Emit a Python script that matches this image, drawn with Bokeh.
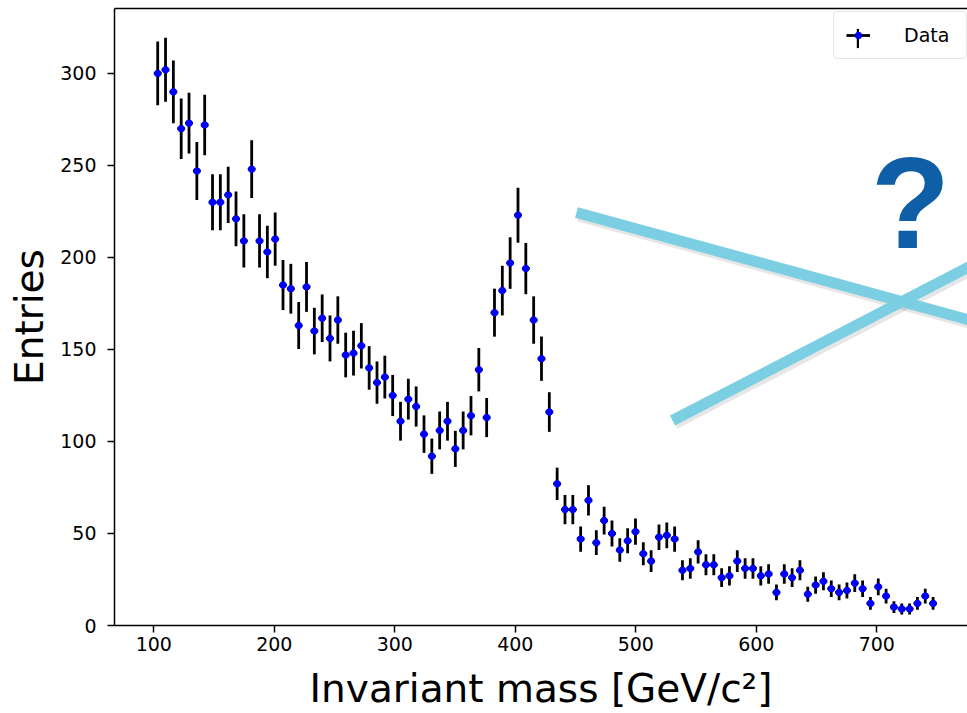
import numpy as np
from bokeh.plotting import figure
from bokeh.models import (Range1d, FixedTicker, LinearAxis, Legend, LegendItem,
                          Label, ColumnDataSource)
from bokeh.embed import file_html
from bokeh.resources import INLINE

# ---------------- data ----------------
bin_low = 100.0
bin_high = 750.0
n_bins = 100

counts = [300, 302, 290, 270, 273, 247, 272, 230, 230, 234,
          221, 209, 248, 209, 203, 210, 185, 183, 163, 184,
          160, 167, 156, 166, 147, 148, 152, 140, 132, 135,
          125, 111, 123, 119, 104, 92, 106, 111, 96, 106,
          114, 139, 113, 170, 182, 197, 223, 194, 166, 145,
          116, 77, 63, 63, 47, 68, 45, 57, 50, 41,
          46, 51, 39, 35, 48, 49, 47, 30, 31, 40,
          33, 33, 26, 27, 35, 31, 31, 27, 28, 18,
          28, 26, 30, 17, 22, 24, 20, 18, 19, 23,
          20, 12, 21, 16, 10, 9, 9, 12, 16, 12]

x_ticks = [100, 200, 300, 400, 500, 600, 700]
y_ticks = [0, 50, 100, 150, 200, 250, 300]
legend_label = "Data"
x_label = "Invariant mass [GeV/c²]"
y_label = "Entries"
overlay_text = "?"

# ---------------- layout ----------------
W, H = 967, 713
FRAME_L, FRAME_R, FRAME_T, FRAME_B = 114, 967, 8, 625
X_MIN, X_MAX = 67.4, 775.3
Y_MIN, Y_MAX = 0.0, 335.3

edges = np.linspace(bin_low, bin_high, n_bins + 1)
centers = 0.5 * (edges[:-1] + edges[1:])
half_w = 0.5 * (edges[1:] - edges[:-1])
yv = np.array(counts, dtype=float)
err = np.sqrt(yv)  # Poisson errors on counts

src = ColumnDataSource(dict(x=centers, y=yv, ylo=yv - err, yhi=yv + err,
                            xlo=centers - half_w, xhi=centers + half_w))

p = figure(width=W, height=H, x_range=Range1d(X_MIN, X_MAX), y_range=Range1d(Y_MIN, Y_MAX),
           output_backend="svg", toolbar_location=None,
           min_border_left=FRAME_L, min_border_right=W - FRAME_R,
           min_border_top=FRAME_T, min_border_bottom=H - FRAME_B)
p.xgrid.visible = False
p.ygrid.visible = False
p.outline_line_color = None
p.background_fill_color = "white"
p.border_fill_color = "white"

FONT = "DejaVu Sans"

xax = p.xaxis[0]
xax.ticker = FixedTicker(ticks=x_ticks)
yax = p.yaxis[0]
yax.ticker = FixedTicker(ticks=y_ticks)
for ax, standoff in ((xax, 4), (yax, 11)):
    ax.axis_line_width = 1.5
    ax.axis_line_color = "black"
    ax.major_tick_line_width = 1.5
    ax.major_tick_line_color = "black"
    ax.major_tick_in = 0
    ax.major_tick_out = 7
    ax.minor_tick_line_color = None
    ax.major_label_text_font = FONT
    ax.major_label_text_font_size = "19px"
    ax.major_label_text_color = "black"
    ax.major_label_standoff = standoff
    ax.axis_label_text_font = FONT
    ax.axis_label_text_font_size = "39px"
    ax.axis_label_text_font_style = "normal"
    ax.axis_label_text_color = "black"
xax.axis_label = x_label
yax.axis_label = y_label
xax.axis_label_standoff = 12
yax.axis_label_standoff = 5

top = LinearAxis(ticker=FixedTicker(ticks=[]), axis_line_width=1.5, axis_line_color="black",
                 major_tick_in=0, major_tick_out=0, minor_tick_in=0, minor_tick_out=0,
                 major_tick_line_color=None, minor_tick_line_color=None,
                 major_label_standoff=0, major_label_text_font_size="0px")
p.add_layout(top, "above")

# ---------------- data glyphs ----------------
r_yerr = p.segment(x0="x", y0="ylo", x1="x", y1="yhi", source=src,
                   line_color="black", line_width=2.8)
r_xerr = p.segment(x0="xlo", y0="y", x1="xhi", y1="y", source=src,
                   line_color="black", line_width=2.8)
r_dot = p.scatter(x="x", y="y", source=src, marker="circle", size=6.5,
                  fill_color="#0000ff", line_color="#0000ff")
# zero-area bars: invisible in the plot, used only as the vertical stroke of the legend handle
r_vleg = p.vbar(x="x", top="y", bottom="y", width=0.0, source=src,
                fill_color="black", line_color=None)

# ---------------- overlay decoration (pixel positions -> data coords) ----------------
def px_x(px):
    return X_MIN + (px - FRAME_L) * (X_MAX - X_MIN) / (FRAME_R - FRAME_L)

def px_y(py):
    return Y_MAX - (py - FRAME_T) * (Y_MAX - Y_MIN) / (FRAME_B - FRAME_T)

strokes = [((576, 212), (1000, 328)), ((672, 420), (1000, 250))]
for (ax0, ay0), (ax1, ay1) in strokes:
    p.line([px_x(ax0 + 2), px_x(ax1 + 2)], [px_y(ay0 + 3), px_y(ay1 + 3)],
           line_color="#555555", line_alpha=0.15, line_width=12)
for (ax0, ay0), (ax1, ay1) in strokes:
    p.line([px_x(ax0), px_x(ax1)], [px_y(ay0), px_y(ay1)],
           line_color="#7ccfe2", line_width=11)

q = Label(x=px_x(910), y=px_y(202), text=overlay_text, text_font="Liberation Sans",
          text_font_style="bold", text_font_size="130px", text_color="#0f5fa6",
          text_align="center", text_baseline="alphabetic")
p.add_layout(q)

# ---------------- legend ----------------
# vertical stroke of the handle (drawn first, underneath)
HANDLE_CX, HANDLE_CY = 857, 38
vleg = Legend(items=[LegendItem(label=" ", renderers=[r_vleg])],
              location=(HANDLE_CX - 1.5 - FRAME_L, FRAME_B - (HANDLE_CY + 12)),
              margin=0, padding=0, glyph_width=3, glyph_height=24, label_height=24,
              label_width=0, label_standoff=0, spacing=0,
              label_text_font_size="10px",
              border_line_color=None, background_fill_color=None, background_fill_alpha=0)
p.add_layout(vleg)

legend = Legend(items=[LegendItem(label=legend_label, renderers=[r_xerr, r_dot])],
                location=(833 - FRAME_L, FRAME_B - 59), margin=0, padding=12,
                glyph_width=24, glyph_height=16, label_height=16, label_width=50,
                label_standoff=34, spacing=0,
                label_text_font=FONT, label_text_font_size="19px", label_text_color="black",
                border_line_color="#cccccc", border_line_width=1.4,
                background_fill_color=None, background_fill_alpha=0)
if "border_radius" in Legend.properties():
    legend.border_radius = 4
p.add_layout(legend)

open("out.html", "w").write(file_html(p, INLINE))
